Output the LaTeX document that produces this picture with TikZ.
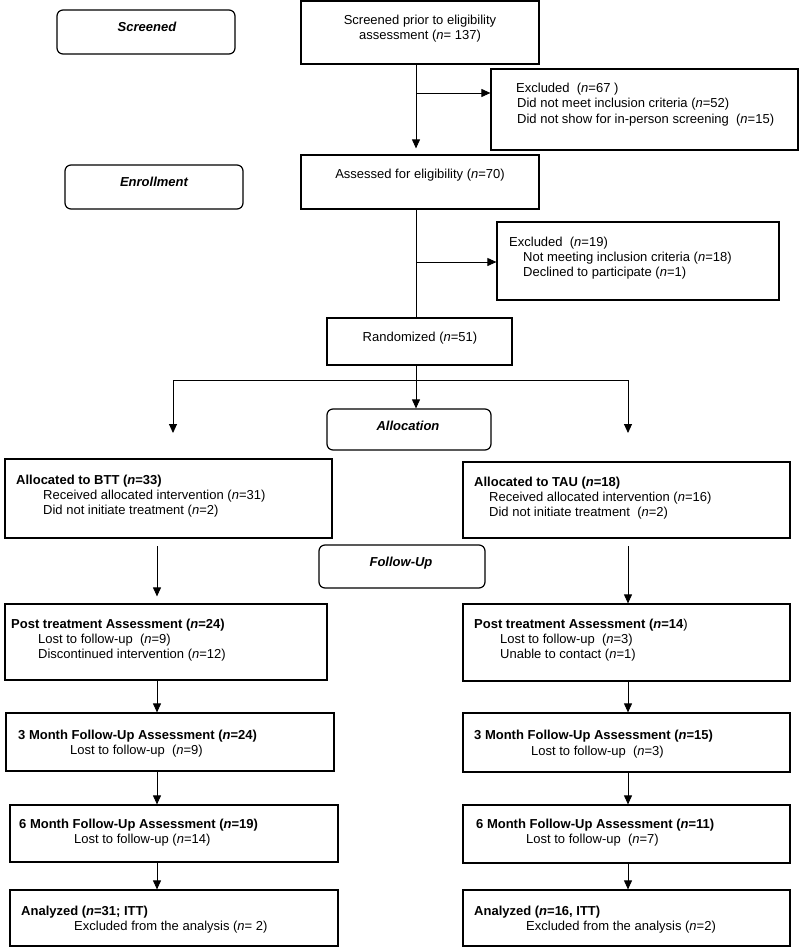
\documentclass[tikz,border=0pt]{standalone}
\usepackage{fontspec}
\setmainfont{Liberation Sans}
\usetikzlibrary{arrows.meta}

\begin{document}
\begin{tikzpicture}[
    x=1pt, y=-1pt,
    box_style/.style={draw, line width=1.2pt, inner sep=0pt},
    stage_style/.style={box_style, rounded corners=6pt},
    line_style/.style={line width=0.9pt},
    arrow_style/.style={line_style, -{Triangle[length=9pt, width=8pt]}},
    txt_style/.style={inner sep=0pt, anchor=base west, font=\fontsize{13}{15}\selectfont},
    title_style/.style={txt_style, anchor=base, font=\fontsize{13}{15}\selectfont\bfseries\itshape}
]
    \useasboundingbox (0,0) rectangle (800,948);

    % --- 绘制宏 ---
    % 名称, 样式, 左, 上, 右, 下 (像素)
    \newcommand{\boxat}[6]{
        \node[#2, minimum width={(#5-#3)*1pt}, minimum height={(#6-#4)*1pt}] (#1) at ({(#3+#5)/2}, {(#4+#6)/2}) {};
    }

    % --- 阶段标签 ---
    \boxat{scrT}{stage_style}{57}{10}{235}{54}
    \boxat{enrT}{stage_style}{65}{165}{243}{209}
    \boxat{allT}{stage_style}{327}{409}{491}{450}
    \boxat{fupT}{stage_style}{319}{545}{485}{588}
    \node[title_style] (scrL) at (147,31) {Screened};
    \node[title_style] (enrL) at (154,186) {Enrollment};
    \node[title_style] (allL) at (408,430) {Allocation};
    \node[title_style] (fupL) at (401,566) {Follow-Up};

    % --- 上部 ---
    \boxat{scr}{box_style}{301}{1}{539}{64}
    \boxat{exA}{box_style}{491}{69}{798}{150}
    \boxat{ass}{box_style}{301}{155}{539}{209}
    \boxat{exB}{box_style}{497}{222}{779}{300}
    \boxat{rnd}{box_style}{327}{318}{512}{365}

    \node[txt_style, anchor=base] (scr1) at (420,24.5) {Screened prior to eligibility};
    \node[txt_style, anchor=base] (scr2) at (420,39.5) {assessment (\textit{n}= 137)};
    \node[txt_style] (exA1) at (516,92) {Excluded\ \ (\textit{n}=67 )};
    \node[txt_style] (exA2) at (517,107) {Did not meet inclusion criteria (\textit{n}=52)};
    \node[txt_style] (exA3) at (517,123) {Did not show for in-person screening\ \ (\textit{n}=15)};
    \node[txt_style, anchor=base] (ass1) at (420,178.5) {Assessed for eligibility (\textit{n}=70)};
    \node[txt_style] (exB1) at (509,246) {Excluded\ \ (\textit{n}=19)};
    \node[txt_style] (exB2) at (523,261) {Not meeting inclusion criteria (\textit{n}=18)};
    \node[txt_style] (exB3) at (523,276) {Declined to participate (\textit{n}=1)};
    \node[txt_style, anchor=base] (rnd1) at (420,341.5) {Randomized (\textit{n}=51)};

    % --- BTT 组 (左) ---
    \boxat{btt}{box_style}{5}{459}{332}{538}
    \boxat{postB}{box_style}{5}{604}{327}{680}
    \boxat{m3B}{box_style}{6}{713}{334}{771}
    \boxat{m6B}{box_style}{10}{805}{338}{862}
    \boxat{anaB}{box_style}{10}{890}{338}{946}

    \node[txt_style] (btt1) at (16,484) {\textbf{Allocated to BTT (\textit{n}=33)}};
    \node[txt_style] (btt2) at (43,499) {Received allocated intervention (\textit{n}=31)};
    \node[txt_style] (btt3) at (43,514) {Did not initiate treatment (\textit{n}=2)};
    \node[txt_style] (postB1) at (11,628) {\textbf{Post treatment Assessment (\textit{n}=24)}};
    \node[txt_style] (postB2) at (38,643) {Lost to follow-up\ \ (\textit{n}=9)};
    \node[txt_style] (postB3) at (38,658) {Discontinued intervention (\textit{n}=12)};
    \node[txt_style] (m3B1) at (18,739) {\textbf{3 Month Follow-Up Assessment (\textit{n}=24)}};
    \node[txt_style] (m3B2) at (70,754) {Lost to follow-up\ \ (\textit{n}=9)};
    \node[txt_style] (m6B1) at (19,828.5) {\textbf{6 Month Follow-Up Assessment (\textit{n}=19)}};
    \node[txt_style] (m6B2) at (74,843.5) {Lost to follow-up (\textit{n}=14)};
    \node[txt_style] (anaB1) at (21,915) {\textbf{Analyzed (\textit{n}=31; ITT)}};
    \node[txt_style] (anaB2) at (74,930) {Excluded from the analysis (\textit{n}= 2)};

    % --- TAU 组 (右) ---
    \boxat{tau}{box_style}{463}{462}{790}{538}
    \boxat{postT}{box_style}{463}{604}{790}{681}
    \boxat{m3T}{box_style}{463}{713}{790}{772}
    \boxat{m6T}{box_style}{463}{805}{790}{863}
    \boxat{anaT}{box_style}{463}{890}{790}{946}

    \node[txt_style] (tau1) at (474,486) {\textbf{Allocated to TAU (\textit{n}=18)}};
    \node[txt_style] (tau2) at (489,501) {Received allocated intervention (\textit{n}=16)};
    \node[txt_style] (tau3) at (489,516) {Did not initiate treatment\ \ (\textit{n}=2)};
    \node[txt_style] (postT1) at (474,628) {\textbf{Post treatment Assessment (\textit{n}=14})};
    \node[txt_style] (postT2) at (500,643) {Lost to follow-up\ \ (\textit{n}=3)};
    \node[txt_style] (postT3) at (500,658) {Unable to contact (\textit{n}=1)};
    \node[txt_style] (m3T1) at (474,739) {\textbf{3 Month Follow-Up Assessment (\textit{n}=15)}};
    \node[txt_style] (m3T2) at (531,755) {Lost to follow-up\ \ (\textit{n}=3)};
    \node[txt_style] (m6T1) at (476,828.5) {\textbf{6 Month Follow-Up Assessment (\textit{n}=11)}};
    \node[txt_style] (m6T2) at (526,843.5) {Lost to follow-up\ \ (\textit{n}=7)};
    \node[txt_style] (anaT1) at (474,915) {\textbf{Analyzed (\textit{n}=16, ITT)}};
    \node[txt_style] (anaT2) at (526,930) {Excluded from the analysis (\textit{n}=2)};

    % --- 连线 ---
    \coordinate (spine) at (416,0);
    \coordinate (jA) at (416,93);
    \coordinate (jB) at (416,262);
    \coordinate (split) at (416,380);
    \coordinate (endL) at (173,433);
    \coordinate (endR) at (628,433);
    \coordinate (laneL) at (157,546);
    \coordinate (laneR) at (628,546);

    \draw[arrow_style, shorten >=6pt] (scr.south -| spine) -- (ass.north -| spine);
    \draw[arrow_style] (jA) -- (exA.west |- jA);
    \draw[line_style] (ass.south -| spine) -- (rnd.north -| spine);
    \draw[arrow_style] (jB) -- (exB.west |- jB);
    \draw[arrow_style] (rnd.south -| spine) -- (allT.north -| spine);
    \draw[line_style] (split -| endL) -- (split -| endR);
    \draw[arrow_style] (split -| endL) -- (endL);
    \draw[arrow_style] (split -| endR) -- (endR);

    \draw[arrow_style, shorten >=7pt] (laneL) -- (postB.north -| laneL);
    \draw[arrow_style] (laneR) -- (postT.north -| laneR);
    \foreach \a/\b in {postB/m3B, m3B/m6B, m6B/anaB} {
        \draw[arrow_style] (\a.south -| laneL) -- (\b.north -| laneL);
    }
    \foreach \a/\b in {postT/m3T, m3T/m6T, m6T/anaT} {
        \draw[arrow_style] (\a.south -| laneR) -- (\b.north -| laneR);
    }

\end{tikzpicture}
\end{document}
